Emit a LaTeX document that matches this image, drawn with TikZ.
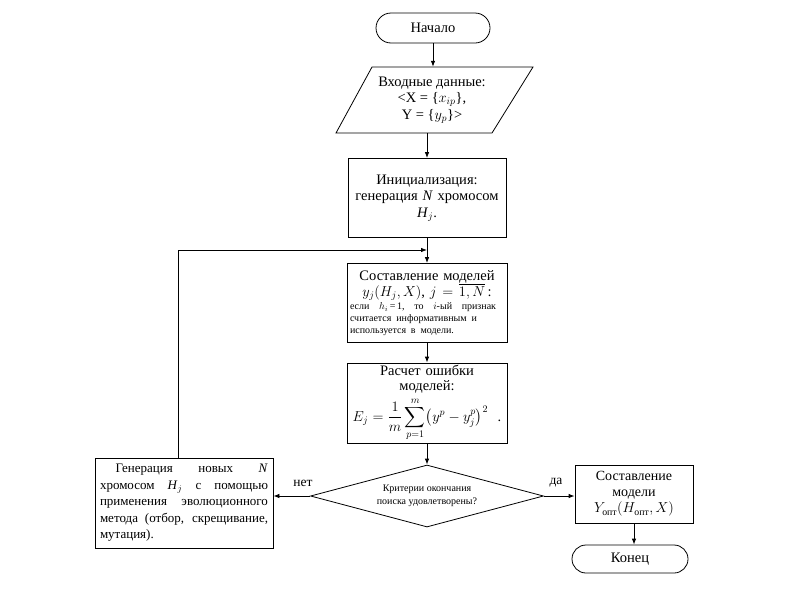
\documentclass[tikz,border=0pt]{standalone}
\usepackage{fontspec}
\setmainfont{Liberation Serif}
\usepackage{amsmath}
\usetikzlibrary{shapes.geometric,shapes.misc,arrows.meta,calc}
\begin{document}
\begin{tikzpicture}[x=1pt,y=-1pt,
  every node/.style={font=\fontsize{14.5}{16.5}\selectfont},
  box/.style={draw, line width=0.8pt, align=center, inner sep=4pt},
  term/.style={draw, line width=0.8pt, rounded rectangle, inner sep=2pt},
  arr/.style={-{Latex[length=6pt,width=4.5pt]}, line width=0.8pt},
  lbl/.style={font=\fontsize{13.5}{15}\selectfont}
]
\useasboundingbox (0,0) rectangle (800,600);

\node[term, minimum width=118pt, minimum height=30pt] (start) at (433,28) {Начало};

\node[minimum width=150pt, minimum height=66pt, align=center, inner sep=0pt] (inp) at (432,100)
  {Входные данные:\\ <X = \{$x_{ip}$\},\\ Y = \{$y_p$\}>};
\draw[line width=0.8pt] (372,67) -- (533,67) -- (492,133) -- (336,133) -- cycle;

\node[box, minimum width=158pt, minimum height=79pt, text width=150pt] (init) at (427,198)
  {Инициализация:\\ генерация \textit{N} хромосом\\ \textit{H}$_j$.};

\node[box, minimum width=160pt, minimum height=79pt, text width=154pt, inner sep=3pt] (models) at (427,303)
  {Составление моделей\\ $y_j(H_j,X)$, $j=\overline{1,N}$\,:\\[1pt]
   \parbox{154pt}{\leftskip=0pt\rightskip=0pt\parfillskip=0pt plus 1fil\parindent=0pt
   \fontsize{10}{12}\selectfont если \ $h_i$\,=\,1, \ то \ $i$-ый \ признак\linebreak считается информативным и\linebreak используется в модели.}};

\node[box, minimum width=160pt, minimum height=80pt, text width=152pt, inner sep=1pt,
  font=\fontsize{14.5}{15.5}\selectfont] (err) at (427,403)
  {Расчет ошибки\\ моделей:\\[3pt] $\displaystyle E_j=\frac{1}{m}\sum_{p=1}^{m}\bigl(y^p-y_j^p\bigr)^2$\ \ .};

\node[draw, line width=0.8pt, diamond, aspect=3.76, minimum width=233pt, minimum height=62pt, inner sep=0pt,
  align=center, font=\fontsize{10}{12.5}\selectfont] (dec) at (427,496)
  {Критерии окончания\\ поиска удовлетворены?};

\node[box, text width=168pt, align=justify, minimum width=178pt, minimum height=90pt, inner sep=4pt,
  font=\fontsize{13}{16.5}\selectfont] (gen) at (184,503)
  {\hspace*{1.2em}Генерация новых \textit{N}\linebreak хромосом \textit{H}$_j$ с помощью\linebreak применения эволюционного\linebreak метода (отбор, скрещивание,\linebreak мутация).};

\node[box, minimum width=118pt, minimum height=58pt, inner sep=2pt, font=\fontsize{14}{16}\selectfont] (res) at (634,494)
  {Составление\\ модели\\ $Y_{\text{опт}}(H_{\text{опт}},X)$};

\node[term, minimum width=120pt, minimum height=28pt] (end) at (630,559) {Конец};

\node[lbl] (no) at (303,483) {нет};
\node[lbl] (yes) at (556,483) {да};

\coordinate (jn) at (427,250);
\coordinate (gtop) at ($(gen.north)+(-6,0)$);

\draw[arr] (start.south) -- (start.south |- inp.north);
\draw[arr] (inp.south -| init.north) -- (init.north);
\draw[arr] (init.south) -- (models.north);
\draw[arr] (models.south) -- (err.north);
\draw[arr] (err.south) -- (dec.north);
\draw[arr] (gtop) |- (jn);
\draw[arr] (dec.west) -- (gen.east |- dec.west);
\draw[arr] (dec.east) -- (res.west |- dec.east);
\draw[arr] (res.south) -- (res.south |- end.north);
\end{tikzpicture}
\end{document}
